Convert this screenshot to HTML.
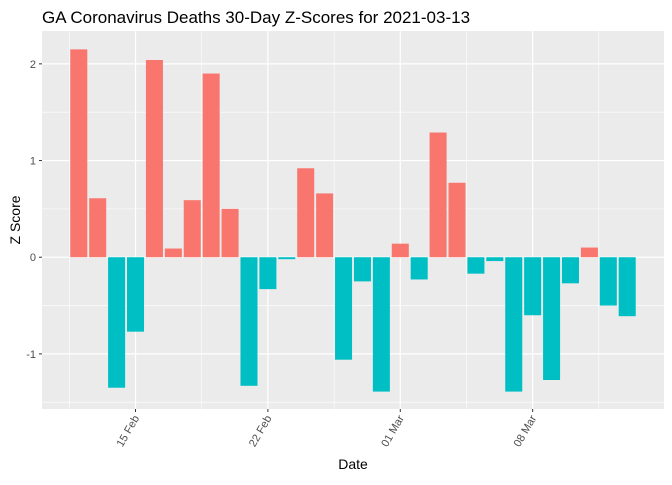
<!DOCTYPE html>
<html><head><meta charset="utf-8"><style>
body{margin:0;background:#fff;font-family:"Liberation Sans",sans-serif;}
</style></head><body>
<svg id="chart" width="672" height="480" xmlns="http://www.w3.org/2000/svg">
<text x="42" y="23" font-size="17" fill="#000">GA Coronavirus Deaths 30-Day Z-Scores for 2021-03-13</text>
<rect x="42" y="31" width="622" height="378" fill="#EBEBEB"/>
<g id="grid"></g><g id="bars"></g><g id="axes"></g>
<text x="353" y="469" font-size="14" text-anchor="middle">Date</text>
<text transform="translate(20,220) rotate(-90)" font-size="14" text-anchor="middle">Z Score</text>
</svg>
<script>
const values=[2.15,0.61,-1.35,-0.77,2.04,0.09,0.59,1.90,0.50,-1.33,-0.33,-0.02,0.92,0.66,-1.06,-0.25,-1.39,0.14,-0.23,1.29,0.77,-0.17,-0.04,-1.39,-0.60,-1.27,-0.27,0.10,-0.50,-0.61];
const yTicks=[-1,0,1,2];
const xTickIdx=[3,10,17,24];
const xTickLabels=["15 Feb","22 Feb","01 Mar","08 Mar"];
const NS="http://www.w3.org/2000/svg";
const L=42,R=664,T=31,B=409;
const n=values.length;
const xmin=-0.45-1.495,xmax=n-1+0.45+1.495;
const ymin=-1.57,ymax=2.34;
const X=i=>L+(i-xmin)/(xmax-xmin)*(R-L);
const Y=v=>B-(v-ymin)/(ymax-ymin)*(B-T);
function mk(t,a,p){const e=document.createElementNS(NS,t);for(const k in a)e.setAttribute(k,a[k]);p.appendChild(e);return e;}
const g=document.getElementById('grid'),bg=document.getElementById('bars'),ax=document.getElementById('axes');
for(let v=-1.5;v<=2.34;v+=0.5){const y=Y(v);const minor=Math.abs(v%1)>0.1;
 const l=mk('line',{x1:L,x2:R,y1:y,y2:y,stroke:'#fff','stroke-width':minor?0.6:1.2},g);
 
 }
for(let k=-1;k<xTickIdx.length;k++){
 const base=k<0?xTickIdx[0]-7:xTickIdx[k];
 const l=mk('line',{x1:X(base+3.5),x2:X(base+3.5),y1:T,y2:B,stroke:'#fff','stroke-width':0.6},g);
 
 }
xTickIdx.forEach((i,k)=>{const x=X(i);
 const l=mk('line',{x1:x,x2:x,y1:T,y2:B,stroke:'#fff','stroke-width':1.2},g);
 
 
 const t=mk('line',{x1:x,x2:x,y1:B,y2:B+3,stroke:'#333'},ax);
 
 
 const tx=mk('text',{x:0,y:0,'font-size':11,fill:'#4D4D4D','text-anchor':'end',transform:`translate(${x+4},${B+9}) rotate(-60)`},ax);
 tx.textContent=xTickLabels[k];
 
 });
yTicks.forEach(v=>{const y=Y(v);
 const t=mk('line',{x1:L-3,x2:L,y1:y,y2:y,stroke:'#333'},ax);
 
 
 const tx=mk('text',{x:L-6,y:y+4,'font-size':11,fill:'#4D4D4D','text-anchor':'end'},ax);
 tx.textContent=v;
 
 });
values.forEach((v,i)=>{const x0=X(i-0.45),x1=X(i+0.45),y0=Y(0),y1=Y(v);
 const r=mk('rect',{x:x0,width:x1-x0,y:Math.min(y0,y1),height:Math.abs(y1-y0),fill:v>=0?'#F8766D':'#00BFC4'},bg);
 
 });
</script>
</body></html>
